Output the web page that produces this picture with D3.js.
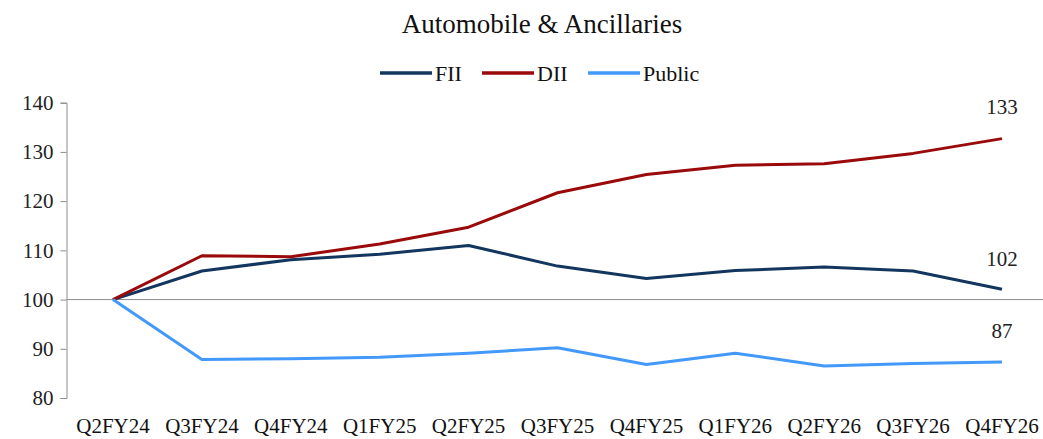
<!DOCTYPE html>
<html>
<head>
<meta charset="utf-8">
<script src="https://cdn.jsdelivr.net/npm/d3@7"></script>
<style>
  body { margin: 0; background: #fff; }
  svg { display: block; font-family: "Liberation Serif", "DejaVu Serif", serif; }
</style>
</head>
<body>
<svg id="chart" width="1043" height="439"></svg>
<script>
const quarters = ['Q2FY24', 'Q3FY24', 'Q4FY24', 'Q1FY25', 'Q2FY25', 'Q3FY25', 'Q4FY25', 'Q1FY26', 'Q2FY26', 'Q3FY26', 'Q4FY26']
const fiiVals = [100, 105.8, 108.1, 109.2, 111.0, 106.8, 104.3, 105.9, 106.6, 105.8, 102.1]
const diiVals = [100, 108.9, 108.7, 111.3, 114.7, 121.7, 125.4, 127.3, 127.6, 129.7, 132.7]
const publicVals = [100, 87.8, 88.0, 88.3, 89.1, 90.2, 86.8, 89.1, 86.5, 87.0, 87.3]
const yTicks = [80, 90, 100, 110, 120, 130, 140]
const seriesNames = ['FII', 'DII', 'Public']
const endLabels = ['102', '133', '87']

const colors = { FII: '#13365f', DII: '#9a0a0a', Public: '#4399fa' }

const series = [
	{ name: 'FII', values: fiiVals },
	{ name: 'DII', values: diiVals },
	{ name: 'Public', values: publicVals }
]

const svg = d3.select('#chart')

const x = d3.scalePoint()
	.domain(quarters)
	.range([113, 1002])

const y = d3.scaleLinear()
	.domain([80, 140])
	.range([398, 102.7])

// title
svg.append('text')
	.attr('x', 542)
	.attr('y', 32.5)
	.attr('text-anchor', 'middle')
	.style('font-size', '27px')
	.style('fill', '#111')
	.text('Automobile & Ancillaries')

// legend
const legendPos = [380, 482, 588]
const legend = svg.append('g')
seriesNames.forEach((s, i) => {
	const g = legend.append('g').attr('transform', 'translate(' + legendPos[i] + ',73)')
	g.append('line')
		.attr('x1', 0).attr('x2', 52)
		.attr('y1', 0).attr('y2', 0)
		.style('stroke', colors[s])
		.style('stroke-width', 3.5)
	g.append('text')
		.attr('x', 55)
		.attr('y', 7.5)
		.style('font-size', '22px')
		.style('fill', '#111')
		.text(s)
})

// y axis
const yAxis = svg.append('g')
	.attr('transform', 'translate(66.5,0)')
	.call(d3.axisLeft(y).tickValues(yTicks).tickSize(6).tickPadding(7))
yAxis.select('.domain').style('stroke', '#8c8c8c')
yAxis.selectAll('.tick line').style('stroke', '#8c8c8c')
yAxis.selectAll('.tick text')
	.style('font-size', '21px')
	.style('fill', '#222')
	.style('font-family', '"Liberation Serif", serif')

// baseline at 100
svg.append('line')
	.attr('x1', 66.5).attr('x2', 1043)
	.attr('y1', y(100)).attr('y2', y(100))
	.style('stroke', '#8c8c8c')
	.style('stroke-width', 1)

// x labels
svg.append('g').selectAll('text')
	.data(quarters)
	.enter().append('text')
	.attr('x', d => x(d))
	.attr('y', 433)
	.attr('text-anchor', 'middle')
	.style('font-size', '21px')
	.style('fill', '#111')
	.text(d => d)

// lines
const line = d3.line()
	.x((d, i) => x(quarters[i]))
	.y(d => y(d))

svg.append('g').selectAll('path')
	.data(series)
	.enter().append('path')
	.attr('d', d => line(d.values))
	.style('fill', 'none')
	.style('stroke', d => colors[d.name])
	.style('stroke-width', 3)
	.style('stroke-linejoin', 'round')

// end labels
const labelOffsets = [23, 25, 24]
series.forEach((s, i) => {
	const last = s.values[s.values.length - 1]
	svg.append('text')
		.attr('x', x(quarters[quarters.length - 1]))
		.attr('y', y(last) - labelOffsets[i])
		.attr('text-anchor', 'middle')
		.style('font-size', '21px')
		.style('fill', '#222')
		.text(endLabels[i])
})
</script>
</body>
</html>
